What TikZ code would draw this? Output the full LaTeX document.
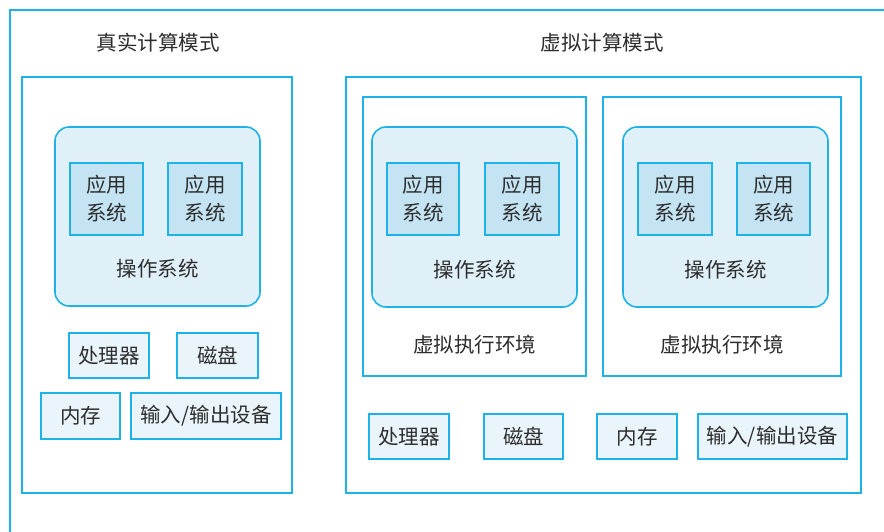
\documentclass[tikz,border=0pt]{standalone}
\usepackage{fontspec}
\setmainfont{Noto Sans CJK SC}
\definecolor{cy}{RGB}{30,178,230}
\definecolor{osfill}{RGB}{224,240,249}
\definecolor{appfill}{RGB}{196,228,244}
\definecolor{hwfill}{RGB}{234,245,251}
\definecolor{txt}{RGB}{45,45,45}
\begin{document}
\begin{tikzpicture}[x=1pt,y=-1pt,
  every node/.style={font=\fontsize{20.5}{28}\selectfont, text=txt, inner sep=0pt},
  frame/.style={draw=cy, line width=1.6pt, fill=white, rectangle},
  osbox/.style={draw=cy, line width=1.6pt, fill=osfill, rounded corners=14pt, rectangle},
  appbox/.style={draw=cy, line width=1.8pt, fill=appfill, rectangle, align=center, minimum width=73pt, minimum height=72pt},
  hwbox/.style={draw=cy, line width=1.6pt, fill=hwfill, rectangle, minimum height=45pt},
  lbl/.style={}
]
\useasboundingbox (0,0) rectangle (884,532);
\fill[white] (0,0) rectangle (884,532);
\begin{scope}
\clip (0,0) rectangle (884,532);
\draw[cy, line width=1.6pt] (10,545) -- (10,10) -- (900,10);
\end{scope}

% titles
\node[lbl] (t1) at (158,43) {真实计算模式};
\node[lbl] (t2) at (602,43) {虚拟计算模式};

% real mode
\node[frame, minimum width=270pt, minimum height=416pt] (real) at (157,285) {};
\node[osbox, minimum width=205pt, minimum height=179pt] (osL) at (157.5,216.5) {};
\node[appbox] (appL1) at (106.5,199) {应用\\系统};
\node[appbox, minimum width=74pt] (appL2) at (205,199) {应用\\系统};
\node[lbl] (osLt) at (157.5,269) {操作系统};
\node[hwbox, minimum width=80pt] (cpuL) at (109,355.5) {处理器};
\node[hwbox, minimum width=81pt] (diskL) at (217.5,355.5) {磁盘};
\node[hwbox, minimum width=79pt, minimum height=46pt] (memL) at (80.5,416) {内存};
\node[hwbox, minimum width=150pt, minimum height=46pt] (ioL) at (206,416) {输入/输出设备};

% virtual mode
\node[frame, minimum width=515pt, minimum height=416pt] (virt) at (603.5,285) {};
\node[frame, minimum width=223pt, minimum height=279pt] (vm1) at (474.5,236.5) {};
\node[frame, minimum width=238pt, minimum height=279pt] (vm2) at (722,236.5) {};
\node[osbox, minimum width=205pt, minimum height=180pt] (osR1) at (474.5,217) {};
\node[osbox, minimum width=205pt, minimum height=180pt] (osR2) at (725.5,217) {};
\node[appbox, minimum width=72pt] (appR1a) at (423,199) {应用\\系统};
\node[appbox, minimum width=74pt] (appR1b) at (522,199) {应用\\系统};
\node[appbox, minimum width=74pt] (appR2a) at (675,199) {应用\\系统};
\node[appbox, minimum width=73pt] (appR2b) at (773.5,199) {应用\\系统};
\node[lbl] (osR1t) at (474.5,270) {操作系统};
\node[lbl] (osR2t) at (725.5,270) {操作系统};
\node[lbl] (vm1t) at (474.5,345) {虚拟执行环境};
\node[lbl] (vm2t) at (722,345) {虚拟执行环境};
\node[hwbox, minimum width=80pt] (cpuR) at (409,436.5) {处理器};
\node[hwbox, minimum width=79pt] (diskR) at (523.5,436.5) {磁盘};
\node[hwbox, minimum width=80pt] (memR) at (637,436.5) {内存};
\node[hwbox, minimum width=149pt] (ioR) at (772.5,436.5) {输入/输出设备};
\end{tikzpicture}
\end{document}
